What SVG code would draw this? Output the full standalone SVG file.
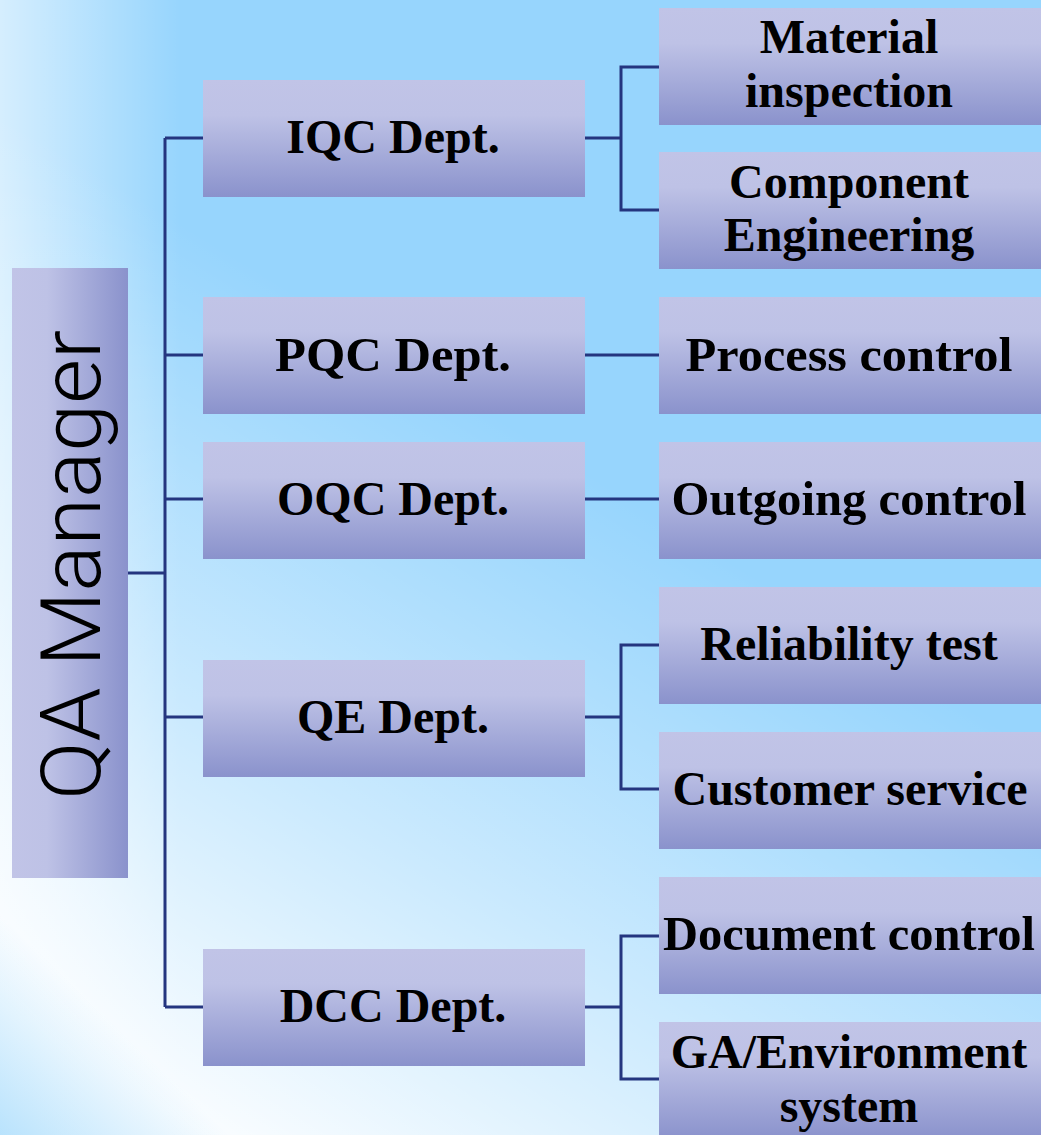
<svg xmlns="http://www.w3.org/2000/svg" width="1041" height="1135" viewBox="0 0 1041 1135">
<defs>
<linearGradient id="boxV" x1="0" y1="0" x2="0" y2="1">
<stop offset="0" stop-color="#c1c4e7"/>
<stop offset="0.3" stop-color="#bec2e6"/>
<stop offset="1" stop-color="#8a92cc"/>
</linearGradient>
<linearGradient id="boxH" x1="0" y1="0" x2="1" y2="0">
<stop offset="0" stop-color="#c1c4e7"/>
<stop offset="0.3" stop-color="#bec2e6"/>
<stop offset="1" stop-color="#8a92cc"/>
</linearGradient>
<linearGradient id="bgDiag" gradientUnits="userSpaceOnUse" x1="120" y1="1080" x2="520" y2="430">
<stop offset="0" stop-color="#ffffff" stop-opacity="0.95"/>
<stop offset="0.45" stop-color="#ffffff" stop-opacity="0.5"/>
<stop offset="1" stop-color="#ffffff" stop-opacity="0"/>
</linearGradient>
<linearGradient id="bgLeft" gradientUnits="userSpaceOnUse" x1="0" y1="0" x2="180" y2="0">
<stop offset="0" stop-color="#ffffff" stop-opacity="0.6"/>
<stop offset="1" stop-color="#ffffff" stop-opacity="0"/>
</linearGradient>
<linearGradient id="bgCorner" gradientUnits="userSpaceOnUse" x1="0" y1="1135" x2="110" y2="1020">
<stop offset="0" stop-color="#a8dcfc" stop-opacity="0.8"/>
<stop offset="1" stop-color="#a8dcfc" stop-opacity="0"/>
</linearGradient>
<style>
.box{fill:url(#boxV);}
.lbl{font-family:"Liberation Serif","Times New Roman",serif;font-weight:bold;font-size:48px;fill:#000;text-anchor:middle;}
.conn{fill:none;stroke:#24357f;stroke-width:3;}
</style>
</defs>
<rect x="0" y="0" width="1041" height="1135" fill="#97d5fd"/>
<rect x="0" y="0" width="1041" height="1135" fill="url(#bgLeft)"/>
<rect x="0" y="0" width="1041" height="1135" fill="url(#bgDiag)"/>
<rect x="0" y="0" width="1041" height="1135" fill="url(#bgCorner)"/>

<g id="connectors">
<path class="conn" d="M128,573 H165 M165,138 V1007 M165,138 H203 M165,355 H203 M165,499 H203 M165,717 H203 M165,1007 H203"/>
<path class="conn" d="M585,138 H621 M659,67 H621 V210 H659"/>
<path class="conn" d="M585,355 H659 M585,499 H659"/>
<path class="conn" d="M585,717 H621 M659,645 H621 V789 H659"/>
<path class="conn" d="M585,1007 H621 M659,936 H621 V1079 H659"/>
</g>

<g id="qa-manager">
<rect x="12" y="268" width="116" height="610" fill="url(#boxH)"/>
<text transform="translate(100,565) rotate(-90)" x="0" y="0" text-anchor="middle" font-family="Roboto,'Liberation Sans',sans-serif" font-weight="300" font-size="84" textLength="470" lengthAdjust="spacingAndGlyphs" fill="#000">QA Manager</text>
</g>

<g id="iqc"><rect class="box" x="203" y="80" width="382" height="117"/><text class="lbl" x="393" y="153">IQC Dept.</text></g>
<g id="pqc"><rect class="box" x="203" y="297" width="382" height="117"/><text class="lbl" x="393" y="371" textLength="236" lengthAdjust="spacingAndGlyphs">PQC Dept.</text></g>
<g id="oqc"><rect class="box" x="203" y="442" width="382" height="117"/><text class="lbl" x="393" y="515">OQC Dept.</text></g>
<g id="qe"><rect class="box" x="203" y="660" width="382" height="117"/><text class="lbl" x="393" y="733">QE Dept.</text></g>
<g id="dcc"><rect class="box" x="203" y="949" width="382" height="117"/><text class="lbl" x="393" y="1022">DCC Dept.</text></g>

<g id="material"><rect class="box" x="659" y="8" width="382" height="117"/><text class="lbl" x="849" y="53">Material</text><text class="lbl" x="849" y="107">inspection</text></g>
<g id="component"><rect class="box" x="659" y="152" width="382" height="117"/><text class="lbl" x="849" y="198">Component</text><text class="lbl" x="849" y="251">Engineering</text></g>
<g id="process"><rect class="box" x="659" y="297" width="382" height="117"/><text class="lbl" x="849" y="371" textLength="327" lengthAdjust="spacingAndGlyphs">Process control</text></g>
<g id="outgoing"><rect class="box" x="659" y="442" width="382" height="117"/><text class="lbl" x="849" y="515" textLength="355" lengthAdjust="spacingAndGlyphs">Outgoing control</text></g>
<g id="reliability"><rect class="box" x="659" y="587" width="382" height="117"/><text class="lbl" x="849" y="660">Reliability test</text></g>
<g id="customer"><rect class="box" x="659" y="732" width="382" height="117"/><text class="lbl" x="850" y="805">Customer service</text></g>
<g id="document"><rect class="box" x="659" y="877" width="382" height="117"/><text class="lbl" x="849" y="950" textLength="372" lengthAdjust="spacingAndGlyphs">Document control</text></g>
<g id="ga"><rect class="box" x="659" y="1022" width="382" height="117"/><text class="lbl" x="849" y="1068">GA/Environment</text><text class="lbl" x="849" y="1122">system</text></g>
</svg>
